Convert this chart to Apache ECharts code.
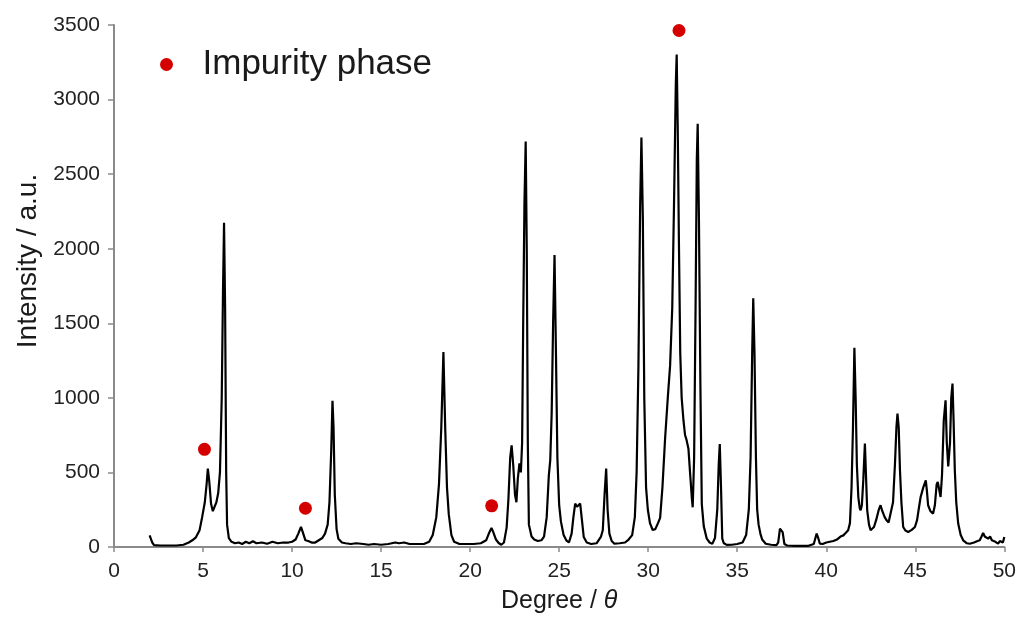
<!DOCTYPE html>
<html>
<head>
<meta charset="utf-8">
<script src="https://cdn.jsdelivr.net/npm/echarts@6/dist/echarts.min.js"></script>
<style>html,body{margin:0;padding:0;background:#fff;}#chart{width:1019px;height:619px;}</style>
</head>
<body>
<div id="chart"></div>
<script>
// Diffraction pattern: degree (x) and intensity (y)
var degrees = [2.0,2.05,2.15,2.25,2.6,3.0,3.5,3.9,4.2,4.4,4.6,4.8,4.95,5.1,5.2,5.27,5.35,5.45,5.55,5.65,5.75,5.85,5.95,6.05,6.12,6.18,6.24,6.3,6.35,6.45,6.6,6.8,7.0,7.2,7.4,7.6,7.8,8.0,8.3,8.6,8.9,9.2,9.5,9.8,10.0,10.2,10.35,10.5,10.6,10.75,10.9,11.1,11.3,11.5,11.7,11.85,12.0,12.1,12.2,12.27,12.33,12.4,12.5,12.6,12.8,13.0,13.3,13.6,14.0,14.3,14.6,15.0,15.4,15.8,16.0,16.3,16.6,17.0,17.4,17.7,17.9,18.1,18.25,18.38,18.5,18.6,18.7,18.8,18.95,19.1,19.4,19.8,20.2,20.6,20.9,21.05,21.2,21.3,21.45,21.6,21.75,21.9,22.05,22.15,22.25,22.33,22.42,22.52,22.6,22.68,22.77,22.85,22.92,22.98,23.05,23.12,23.18,23.24,23.3,23.45,23.6,23.8,24.0,24.15,24.3,24.42,24.5,24.58,24.66,24.74,24.82,24.9,25.0,25.1,25.25,25.4,25.55,25.7,25.8,25.9,26.0,26.08,26.18,26.28,26.38,26.55,26.8,27.1,27.35,27.45,27.55,27.64,27.72,27.82,27.95,28.1,28.4,28.7,28.9,29.1,29.25,29.35,29.45,29.55,29.62,29.7,29.78,29.88,29.98,30.1,30.25,30.4,30.55,30.67,30.8,30.95,31.1,31.23,31.35,31.45,31.55,31.6,31.66,31.73,31.8,31.88,31.98,32.07,32.15,32.26,32.35,32.45,32.5,32.58,32.66,32.73,32.78,32.85,32.93,33.01,33.12,33.29,33.45,33.6,33.75,33.88,33.96,34.02,34.09,34.16,34.25,34.41,34.7,35.0,35.3,35.5,35.65,35.75,35.84,35.9,35.97,36.05,36.12,36.2,36.3,36.4,36.6,36.9,37.2,37.3,37.4,37.5,37.55,37.65,37.8,38.2,38.6,39.0,39.3,39.46,39.55,39.64,39.8,40.0,40.2,40.4,40.6,40.8,40.96,41.1,41.23,41.33,41.42,41.5,41.58,41.65,41.72,41.8,41.88,41.93,42.0,42.08,42.17,42.24,42.3,42.4,42.49,42.6,42.68,42.8,42.95,43.05,43.15,43.28,43.39,43.5,43.61,43.75,43.86,43.94,44.0,44.07,44.14,44.22,44.32,44.45,44.6,44.8,44.98,45.1,45.2,45.3,45.45,45.59,45.65,45.72,45.85,46.0,46.1,46.2,46.26,46.35,46.42,46.5,46.6,46.7,46.77,46.85,46.95,47.02,47.09,47.15,47.22,47.3,47.41,47.55,47.69,47.9,48.06,48.3,48.5,48.62,48.72,48.81,48.9,49.0,49.09,49.2,49.3,49.37,49.5,49.65,49.75,49.84,49.92,50.0];
var intensity = [78,75,30,12,10,10,10,15,30,45,65,110,200,300,420,526,440,290,240,230,300,360,500,1000,1700,2174,1600,500,150,60,35,25,30,20,35,25,38,25,30,22,35,25,30,30,35,50,90,135,100,45,40,30,30,45,60,90,150,300,650,980,800,350,120,55,30,25,20,25,20,15,20,15,20,30,25,30,20,20,20,35,80,200,420,800,1308,800,400,220,80,35,20,20,20,25,45,90,128,100,50,27,15,30,130,320,600,682,550,350,300,460,560,500,700,1500,2300,2718,2000,700,150,70,50,40,45,70,200,480,582,900,1500,1957,1300,600,280,170,80,45,30,90,200,291,270,280,291,180,67,30,20,25,70,112,350,526,250,90,40,22,25,30,50,80,200,500,1200,2300,2745,2200,1000,400,250,160,114,120,160,195,400,729,1000,1216,1600,2300,3100,3302,2800,2000,1300,1000,850,751,720,659,500,330,266,600,1600,2600,2838,2200,1100,288,140,56,30,21,60,250,550,690,400,56,25,14,15,20,30,80,250,600,1300,1668,1300,600,250,150,90,50,22,15,12,30,123,110,100,20,10,8,8,8,20,90,60,22,20,30,35,40,50,70,78,95,112,160,400,800,1336,1000,550,335,260,246,280,450,694,450,246,150,112,125,134,180,250,280,240,200,179,165,157,300,560,800,895,800,515,300,134,110,101,115,134,180,260,335,400,447,380,280,240,224,280,420,436,380,335,480,850,984,700,540,700,1000,1096,850,515,300,157,80,45,25,22,30,40,45,70,94,70,80,56,70,45,56,35,22,40,45,30,67];
// Impurity phase markers
var impurityDeg = [5.08, 10.75, 21.21, 31.73];
var impurityVal = [655, 260, 276, 3463];
var xTicks = {min: 0, max: 50, interval: 5};
var yTicks = {min: 0, max: 3500, interval: 500};

var lineData = degrees.map(function (d, i) { return [d, intensity[i]]; });
var dotData = impurityDeg.map(function (d, i) { return [d, impurityVal[i]]; });

var FONT = '"Liberation Sans", Arial, sans-serif';
var axisGray = '#8a8a8a';
var chart = echarts.init(document.getElementById('chart'), null, {renderer: 'canvas'});
chart.setOption({
  backgroundColor: '#ffffff',
  animation: false,
  grid: {left: 114, right: 14, top: 25, bottom: 72, containLabel: false},
  legend: {
    data: [{name: 'Impurity phase', icon: 'circle'}],
    left: 160, top: 47, padding: 0,
    itemWidth: 62, itemHeight: 13,
    textStyle: {fontFamily: FONT, fontSize: 35, color: '#1a1a1a'}
  },
  xAxis: {
    type: 'value', min: xTicks.min, max: xTicks.max, interval: xTicks.interval,
    name: 'Degree / {i|θ}', nameLocation: 'middle', nameGap: 42,
    nameTextStyle: {fontFamily: FONT, fontSize: 25, color: '#1a1a1a',
      rich: {i: {fontFamily: FONT, fontSize: 25, fontStyle: 'italic', color: '#1a1a1a'}}},
    axisLine: {lineStyle: {color: axisGray, width: 2}},
    axisTick: {inside: false, length: 5, lineStyle: {color: axisGray, width: 1.5}},
    axisLabel: {fontFamily: FONT, fontSize: 21, color: '#222', margin: 14},
    splitLine: {show: false}
  },
  yAxis: {
    type: 'value', min: yTicks.min, max: yTicks.max, interval: yTicks.interval,
    name: 'Intensity / a.u.', nameLocation: 'middle', nameGap: 64, nameRotate: 90,
    nameTextStyle: {fontFamily: FONT, fontSize: 28, color: '#1a1a1a', padding: [0, 0, 0, 50]},
    axisLine: {lineStyle: {color: axisGray, width: 2}},
    axisTick: {inside: false, length: 6, lineStyle: {color: axisGray, width: 1.5}},
    axisLabel: {fontFamily: FONT, fontSize: 21, color: '#222', margin: 14,
      formatter: function (v) { return String(v); }},
    splitLine: {show: false}
  },
  series: [
    {
      name: 'Pattern', type: 'line', data: lineData, showSymbol: false, symbol: 'none',
      lineStyle: {color: '#000', width: 2.2}, z: 2
    },
    {
      name: 'Impurity phase', type: 'scatter', data: dotData, symbol: 'circle', symbolSize: 13,
      itemStyle: {color: '#d40000', opacity: 1}, z: 3
    }
  ]
});
</script>
</body>
</html>
